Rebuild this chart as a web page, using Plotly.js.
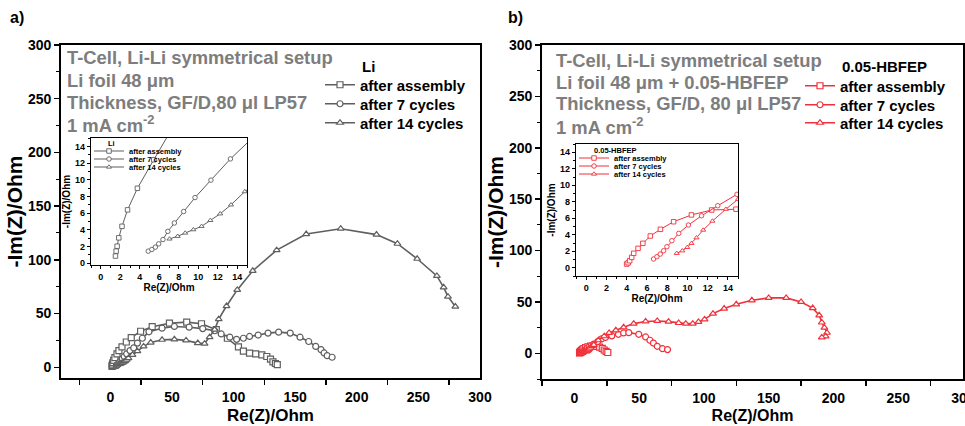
<!DOCTYPE html>
<html>
<head>
<meta charset="utf-8">
<script src="https://cdn.plot.ly/plotly-3.0.1.min.js"></script>
<style>html,body{margin:0;padding:0;background:#fff;}#chart{width:965px;height:426px;}</style>
</head>
<body>
<div id="chart"></div>
<script>
// ---------- Data: panel a) Li ----------
const seriesNames = ["after assembly", "after 7 cycles", "after 14 cycles"];
const liAssemblyRe = [1.51,1.58,1.68,1.85,2.18,2.75,3.76,5.44,7,9.5,13,17,24.6,34,48,62,74,86,95,104,108,113,118,123,127,130,132,134,135.5];
const liAssemblyIm = [0.87,1.46,2.05,3.05,4.43,6.4,8.98,12.4,15.5,19,23.5,27.6,33.5,37.8,41,42,40.5,35,27,19,15,13.2,12.5,11.6,10,7.5,5,3.5,2.5];
const li7Re = [4.87,5.24,5.6,5.94,6.38,6.88,7.55,8.5,9.67,11.3,13.3,16,19,22,26,31.4,42,52,64,75,84.7,90,97,102.5,108,113,120,128,136.6,146,154,161,166.7,171,173.5,176,180];
const li7Im = [1.46,1.66,1.94,2.33,2.85,3.83,4.83,6.2,7.87,9.96,12.5,15.5,18,22.5,27,33,36.4,38,37.3,36,34,31,28,26,27,28.7,30,31.8,32.7,31.8,28,24,19.4,16.4,13.3,10.8,9.3];
const li14Re = [7.05,7.89,8.66,9.5,10.34,11.24,12.25,13.36,14.77,18,22,27,32.8,42,52,61.5,71,76.5,80.6,84.7,88,94.3,103,115.6,135,159,187,216,233,249,265,270.5,274,280];
const li14Im = [2.92,3.24,3.63,4.03,4.43,5.14,5.93,7.0,8.58,11.5,15,19.4,23,25.6,26,25,22.5,22,28,35,44.8,57,72,89.8,109,124,129,123.5,115,101,85,74.4,65.7,56.5];

// ---------- Data: panel b) 0.05-HBFEP ----------
const hbAssemblyRe = [4.0,4.15,4.3,4.5,4.7,5.13,5.6,6.34,7.34,8.64,10.4,12.4,14.8,17,19.5,21.5,23,24.5,25.8];
const hbAssemblyIm = [0.45,0.6,0.85,1.26,1.75,2.35,2.96,3.85,4.66,5.58,6.4,7.0,7.1,6.8,6.0,4.8,3.2,1.8,0.8];
const hb7Re = [6.66,6.99,7.32,7.65,7.98,8.47,9.15,10.1,11.4,13.0,14.9,18,21,24,28.9,34,38,42,49.7,55,58.3,61,64,68,71.9];
const hb7Im = [1.06,1.34,1.66,2.06,2.55,3.28,4.17,5.18,6.3,7.52,8.9,11.5,14,15.5,17,18.5,19.8,20.1,18.5,15.9,12.7,10,6.8,4.5,3.6];
const hb14Re = [8.95,9.5,9.99,10.4,10.9,11.56,12.47,13.8,15,18.5,23,26.8,32,38,45.8,55,64,72.7,80.5,86,91.4,95.8,100.5,107,115.6,125,137,150,163.5,175,184,189,191,193,195,194,191];
const hb14Im = [1.75,2.06,2.47,2.96,3.64,4.57,5.66,7.1,8.3,12.7,16.6,19.8,22.4,25.3,28.9,31,31.5,30.8,29.5,28.9,28.9,30.5,33,38.6,43.5,47.7,51.6,53.9,53.9,50,44,37,30,25,20,16.5,15.5];

// ---------- Tick values ----------
const mainTicks = [0,50,100,150,200,250,300];
const insetTicks = [0,2,4,6,8,10,12,14];

// ---------- Styles ----------
const FONT = "Liberation Sans, Arial, sans-serif";
const grey = "#5f5f5f";
const red = "#f0303a";
const textGrey = "#7d7d7d";
const symbols = ["square", "circle", "triangle-up"];

const liData = [[liAssemblyRe, liAssemblyIm],[li7Re, li7Im],[li14Re, li14Im]];
const hbData = [[hbAssemblyRe, hbAssemblyIm],[hb7Re, hb7Im],[hb14Re, hb14Im]];

const W = 965, H = 426;
const px = v => v / W;
const py = v => 1 - v / H;

const traces = [];
const legends = {};
let legendCount = 0;
function legendKey() { legendCount++; return legendCount === 1 ? "legend" : "legend" + legendCount; }

// each trace gets its own legend so that the item spacing matches the reference
function addSet(data, color, xa, ya, msize, lw, mlw, legX, legYs, legFont) {
  data.forEach((d, i) => {
    const key = legendKey();
    legends[key] = {x: px(legX), y: py(legYs[i]), xanchor: "left", yanchor: "middle",
      bgcolor: "rgba(0,0,0,0)", font: legFont, itemwidth: 30};
    traces.push({
      x: d[0], y: d[1], type: "scatter", mode: "lines+markers",
      name: seriesNames[i], xaxis: xa, yaxis: ya, legend: key,
      line: {color: color, width: lw},
      marker: {symbol: symbols[i], size: msize, color: "white", line: {color: color, width: mlw}},
      hoverinfo: "x+y"
    });
  });
}
const legFont = {family: FONT, size: 15, color: "black", weight: "bold"};
const smallLegFont = {family: FONT, size: 7.5, color: "black", weight: "bold"};

addSet(liData, grey, "x", "y", 6, 1.6, 1.2, 320, [85, 104, 123], legFont);
addSet(hbData, red, "x2", "y2", 6, 1.6, 1.2, 800, [86, 105, 123], legFont);
addSet(liData, grey, "x3", "y3", 4.5, 1, 0.9, 89, [151, 159, 167], smallLegFont);
addSet(hbData, red, "x4", "y4", 4.5, 1, 0.9, 574, [158, 166, 174], smallLegFont);

function mainX(dom, rng, titleSize) {
  return {
    domain: dom, range: rng, tickvals: mainTicks, ticks: "", showline: true, mirror: true,
    linecolor: "black", linewidth: 1.8, showgrid: false, zeroline: false,
    minor: {tickvals: [-25,25,75,125,175,225,275], ticks: "outside", ticklen: 5, tickcolor: "black", tickwidth: 1.5},
    tickfont: {family: FONT, size: 14, color: "black", weight: "bold"},
    ticklabelstandoff: 5, ticklabeloverflow: "allow",
    title: {text: "Re(Z)/Ohm", font: {family: FONT, size: titleSize, color: "black", weight: "bold"}, standoff: 5}
  };
}
function mainY(dom, rng) {
  return {
    domain: dom, range: rng, tickvals: mainTicks, ticks: "outside", ticklen: 5, tickwidth: 1.5, tickcolor: "black",
    showline: true, mirror: true, linecolor: "black", linewidth: 1.8, showgrid: false, zeroline: false,
    minor: {dtick: 25, ticks: "outside", ticklen: 3, tickcolor: "black", tickwidth: 1},
    tickfont: {family: FONT, size: 14, color: "black", weight: "bold"},
    title: {text: "-Im(Z)/Ohm", font: {family: FONT, size: 21, color: "black", weight: "bold"}, standoff: 0}
  };
}
function insetX(dom, anchor) {
  return {
    domain: dom, range: [-1, 15], tickvals: insetTicks, ticks: "outside", ticklen: 3, tickwidth: 1, tickcolor: "black",
    anchor: anchor, showline: true, mirror: true, linecolor: "black", linewidth: 1.3, showgrid: false, zeroline: false,
    minor: {dtick: 1, ticks: "outside", ticklen: 2, tickcolor: "black"},
    tickfont: {family: FONT, size: 9, color: "black", weight: "bold"},
    title: {text: "Re(Z)/Ohm", font: {family: FONT, size: 10, color: "black", weight: "bold"}, standoff: 3}
  };
}
function insetY(dom, anchor, rng) {
  return {
    domain: dom, range: rng, tickvals: insetTicks, ticks: "outside", ticklen: 3, tickwidth: 1, tickcolor: "black",
    anchor: anchor, showline: true, mirror: true, linecolor: "black", linewidth: 1.3, showgrid: false, zeroline: false,
    minor: {dtick: 1, ticks: "outside", ticklen: 2, tickcolor: "black"},
    tickfont: {family: FONT, size: 9, color: "black", weight: "bold"},
    title: {text: "-Im(Z)/Ohm", font: {family: FONT, size: 10, color: "black", weight: "bold"}, standoff: 2}
  };
}

function ann(text, x, y, size, color) {
  return {text: text, x: px(x), y: py(y), xref: "paper", yref: "paper", xanchor: "left", yanchor: "middle",
    showarrow: false, font: {family: FONT, size: size, color: color, weight: "bold"}};
}

const annotations = [
  ann("a)", 8, 18, 16, "black"),
  ann("b)", 506, 18, 16, "black"),
  ann("T-Cell, Li-Li symmetrical setup", 65, 58, 18.4, textGrey),
  ann("Li foil 48 μm", 65, 80, 18.4, textGrey),
  ann("Thickness, GF/D,80 μl LP57", 65, 102, 18.4, textGrey),
  ann("1 mA cm<sup>-2</sup>", 65, 124, 18.4, textGrey),
  ann("T-Cell, Li-Li symmetrical setup", 554, 60, 18.4, textGrey),
  ann("Li foil 48 μm + 0.05-HBFEP", 554, 82, 18.4, textGrey),
  ann("Thickness, GF/D, 80 μl LP57", 554, 104, 18.4, textGrey),
  ann("1 mA cm<sup>-2</sup>", 554, 126, 18.4, textGrey),
  ann("Li", 360, 66, 15, "black"),
  ann("0.05-HBFEP", 840, 67, 15, "black"),
  ann("Li", 106, 143, 7.5, "black"),
  ann("0.05-HBFEP", 592, 150, 7.5, "black")
];

const layout = Object.assign({
  width: W, height: H, margin: {l: 0, r: 0, t: 0, b: 0},
  paper_bgcolor: "white", plot_bgcolor: "rgba(0,0,0,0)",
  font: {family: FONT, color: "black"},
  showlegend: true,
  xaxis: mainX([px(61), px(480)], [-40, 300], 17),
  yaxis: mainY([py(378), py(45)], [-10, 300]),
  xaxis2: Object.assign(mainX([px(542), px(963)], [-25, 300], 16), {anchor: "y2"}),
  yaxis2: Object.assign(mainY([py(379), py(45)], [-25, 300]), {anchor: "x2"}),
  xaxis3: insetX([px(91), px(247)], "y3"),
  yaxis3: insetY([py(265), py(138)], "x3", [-0.2, 15]),
  xaxis4: insetX([px(576), px(738)], "y4"),
  yaxis4: insetY([py(276), py(144)], "x4", [-1, 15]),
  annotations: annotations
}, legends);

Plotly.newPlot("chart", traces, layout, {displayModeBar: false, staticPlot: true});
</script>
</body>
</html>
